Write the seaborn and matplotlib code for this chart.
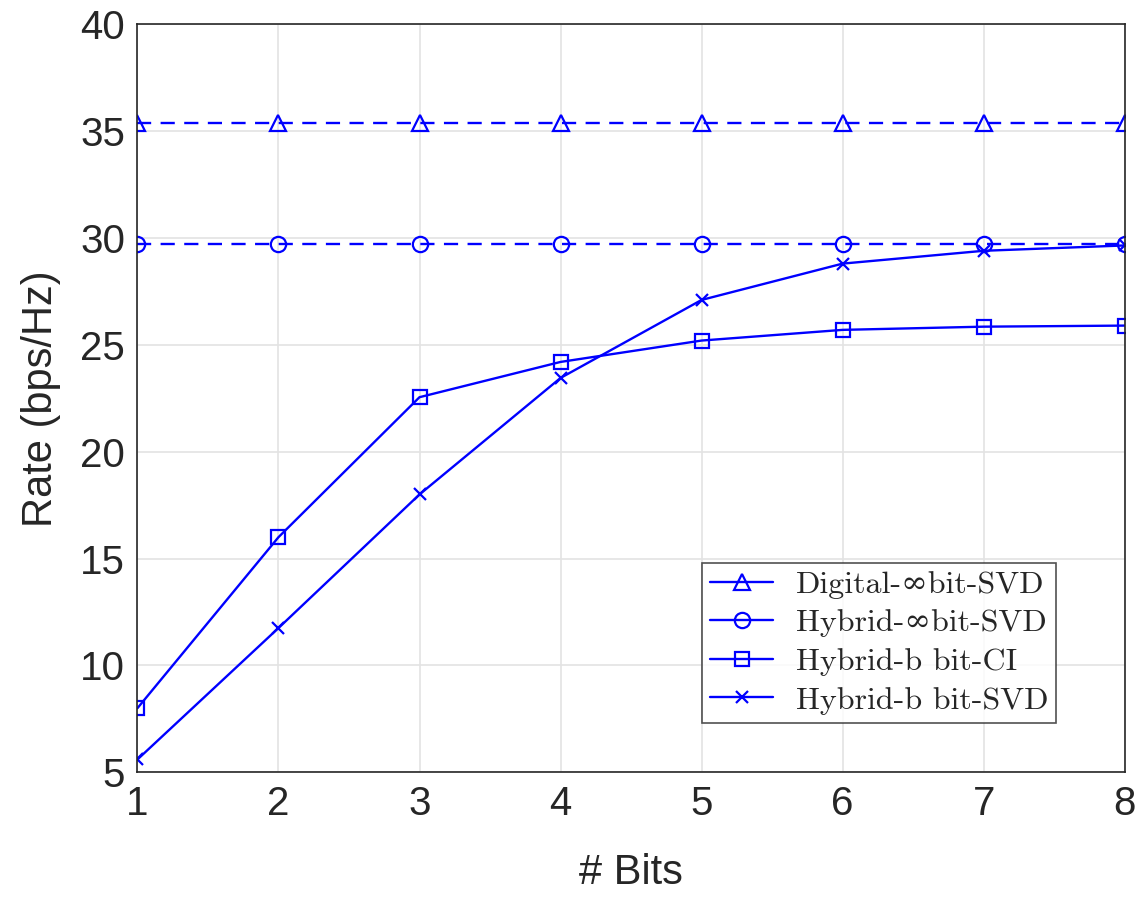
import pandas as pd
import matplotlib
matplotlib.use("Agg")
import matplotlib.pyplot as plt
import seaborn as sns

bits = [1, 2, 3, 4, 5, 6, 7, 8]
digital_inf_svd = [35.4, 35.4, 35.4, 35.4, 35.4, 35.4, 35.4, 35.4]
hybrid_inf_svd = [29.7, 29.7, 29.7, 29.7, 29.7, 29.7, 29.7, 29.7]
hybrid_b_ci = [8.0, 16.0, 22.55, 24.2, 25.2, 25.7, 25.85, 25.9]
hybrid_b_svd = [5.6, 11.75, 18.0, 23.45, 27.1, 28.8, 29.4, 29.65]

labels = ["Digital-\u221ebit-SVD", "Hybrid-\u221ebit-SVD",
          "Hybrid-b bit-CI", "Hybrid-b bit-SVD"]

sns.set_style("white")
plt.rcParams['font.family'] = ['Liberation Sans', 'DejaVu Sans']

fig = plt.figure(figsize=(11.36, 8.98), dpi=100)
ax = fig.add_axes([0.121, 0.140, 0.869, 0.833])

blue = (0, 0, 1)
series = [
    (digital_inf_svd, '^', 12, (6, 4), labels[0]),
    (hybrid_inf_svd, 'o', 11, (6, 4), labels[1]),
    (hybrid_b_ci, 's', 10, None, labels[2]),
    (hybrid_b_svd, 'x', 9, None, labels[3]),
]
for ys, mk, ms, dash, lab in series:
    df = pd.DataFrame({'bits': bits, 'rate': ys})
    kw = dict(marker=mk, markersize=ms, markerfacecolor='none',
              markeredgecolor=blue, markeredgewidth=1.6,
              color=blue, linewidth=1.7, label=lab)
    if dash is not None:
        kw['dashes'] = dash
    sns.lineplot(data=df, x='bits', y='rate', ax=ax, **kw)

ax.set_xlim(1, 8)
ax.set_ylim(5, 40)
ax.set_xticks(bits)
ax.set_yticks([5, 10, 15, 20, 25, 30, 35, 40])
ax.tick_params(direction='in', labelsize=29, length=6, color='#262626',
               labelcolor='#262626', pad=9)
ax.grid(True, color='#e3e3e3', linewidth=1.2)
for s in ax.spines.values():
    s.set_color('#262626')
    s.set_linewidth(1.2)
    s.set_visible(True)

ax.set_xlabel("# Bits", fontsize=30, color='#262626', labelpad=22)
ax.set_ylabel("Rate (bps/Hz)", fontsize=30, color='#262626', labelpad=14)

leg = ax.legend(loc='lower right', bbox_to_anchor=(0.947, 0.045),
                prop={'family': ['cmr10', 'DejaVu Serif'], 'size': 23},
                frameon=True, fancybox=False, edgecolor='#262626',
                handlelength=2.0, borderpad=0.25, labelspacing=0.32,
                handletextpad=0.7)
leg.get_frame().set_linewidth(1.2)
for h in leg.get_lines():
    h.set_linestyle('-')

fig.savefig("out.png", dpi=100)
